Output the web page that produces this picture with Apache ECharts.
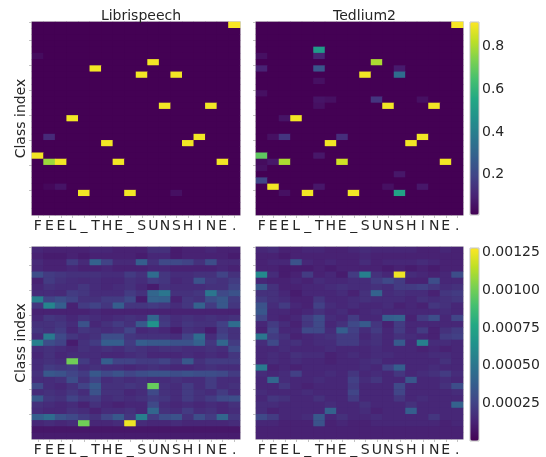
<!DOCTYPE html>
<html>
<head>
<meta charset="utf-8">
<script src="https://cdn.jsdelivr.net/npm/echarts@6/dist/echarts.min.js"></script>
<style>
html, body { margin: 0; padding: 0; background: #fff; }
#main { width: 546px; height: 457px; }
</style>
</head>
<body>
<div id="main"></div>
<script>
// 字符序列 (x 轴)
const chars = ['F','E','E','L','_','T','H','E','_','S','U','N','S','H','I','N','E','.'];
const nClasses = 31;
const titles = ['Librispeech', 'Tedlium2'];

// 上排: 每列峰值所在的行 (从上往下数) 和数值
const topBackground = 0.012;
const libriPeakRows = [21, 22, 22, 15, 27, 7, 19, 22, 27, 8, 6, 13, 8, 19, 18, 13, 22, 0];
const libriPeakVals = [0.90, 0.78, 0.90, 0.90, 0.90, 0.90, 0.90, 0.90, 0.90, 0.90, 0.90, 0.90, 0.90, 0.90, 0.90, 0.90, 0.90, 0.91];
// [列, 行, 值]
const libriExtra = [[0, 5, 0.04], [1, 18, 0.12], [1, 26, 0.03], [2, 26, 0.06], [12, 27, 0.05]];

const tedPeakRows = [21, 26, 22, 15, 27, 4, 19, 22, 27, 8, 6, 13, 27, 19, 18, 13, 22, 0];
const tedPeakVals = [0.69, 0.90, 0.80, 0.90, 0.90, 0.50, 0.90, 0.85, 0.90, 0.90, 0.80, 0.90, 0.53, 0.90, 0.90, 0.90, 0.90, 0.91];
const tedExtra = [
    [0, 5, 0.05], [5, 5, 0.10], [0, 7, 0.10], [5, 7, 0.25], [12, 7, 0.08], [12, 8, 0.33],
    [5, 9, 0.05], [0, 11, 0.05], [5, 12, 0.06], [6, 12, 0.05], [10, 12, 0.15], [14, 12, 0.05],
    [5, 13, 0.05], [2, 15, 0.06], [1, 18, 0.05], [2, 18, 0.15], [7, 18, 0.13], [5, 21, 0.07],
    [1, 22, 0.07], [0, 23, 0.05], [12, 24, 0.07], [0, 25, 0.20], [5, 26, 0.07], [11, 26, 0.05],
    [14, 26, 0.07], [2, 27, 0.05], [0, 22, 0.04]
];

// 下排: 数值单位 1e-5, 每行从上往下
const libriLow = [
    [14,12,12,12,12,14,14,12,12,12,18,18,10,12,12,14,12,12],
    [12,10,10,12,10,12,12,12,12,10,14,14,10,12,12,12,12,10],
    [15,12,12,22,15,40,25,15,15,38,18,28,28,25,18,30,15,15],
    [14,12,12,14,12,12,14,12,12,12,14,14,12,12,12,12,14,12],
    [30,22,20,18,18,18,16,16,22,18,45,20,16,16,18,18,25,18],
    [12,22,18,16,15,16,14,14,18,16,22,20,14,16,32,20,18,22],
    [14,18,16,16,20,16,14,16,18,14,10,18,16,16,16,18,18,25],
    [16,16,15,22,20,16,16,16,22,18,42,50,18,18,20,50,28,32],
    [55,25,30,25,18,18,22,22,28,10,40,38,12,20,18,30,35,22],
    [20,58,38,12,22,25,20,38,20,20,22,20,16,20,40,22,35,20],
    [12,12,12,12,12,14,12,12,12,12,12,12,12,12,12,12,12,12],
    [14,20,18,14,18,16,14,16,18,16,42,20,16,18,16,18,16,18],
    [18,18,20,16,32,14,18,22,18,35,65,22,16,20,18,18,24,45],
    [20,18,22,14,20,18,16,18,26,14,16,14,10,18,16,10,22,18],
    [16,52,28,20,16,18,30,30,20,18,18,18,16,25,45,16,25,18],
    [55,30,25,10,18,22,38,38,22,38,35,35,32,32,40,20,42,22],
    [16,18,16,14,18,16,18,16,20,18,16,18,18,16,16,18,16,28],
    [14,18,14,16,16,16,14,14,16,18,14,14,14,16,14,16,14,20],
    [16,18,16,100,22,16,38,25,25,22,22,25,20,35,18,22,22,22],
    [16,22,20,22,16,18,16,16,14,16,18,16,14,14,16,18,16,16],
    [18,35,32,26,22,35,28,32,26,30,32,32,30,32,30,30,28,22],
    [16,16,18,30,18,25,16,18,16,18,16,16,18,16,16,22,16,16],
    [28,16,14,18,25,35,18,18,20,18,98,18,16,22,16,22,16,18],
    [16,18,16,20,16,32,18,18,14,16,28,18,16,22,18,16,22,16],
    [35,20,18,25,20,22,16,18,16,18,22,20,16,22,18,22,28,30],
    [18,16,14,16,12,18,14,12,14,14,28,16,14,16,14,16,14,18],
    [16,14,14,18,16,12,16,16,18,14,42,18,16,22,16,18,14,16],
    [38,45,32,28,22,18,26,35,20,55,22,30,32,18,30,22,42,20],
    [14,16,14,16,100,14,14,16,125,16,14,14,16,14,14,14,14,16],
    [8,8,8,8,8,8,8,8,8,8,8,8,8,8,8,8,8,8],
    [10,10,10,10,10,10,10,10,10,10,10,10,10,10,10,10,10,10]
];
const tedLow = [
    [14,16,12,12,14,14,12,12,14,16,14,14,14,14,12,12,14,12],
    [12,12,10,12,12,12,12,12,12,14,12,12,12,12,12,12,12,12],
    [12,14,14,32,14,12,14,12,12,16,12,14,14,14,16,14,12,12],
    [12,12,10,10,10,12,10,12,12,12,12,10,12,10,12,10,12,12],
    [60,16,10,12,22,12,14,10,22,55,18,14,125,16,14,12,14,30],
    [14,12,12,14,12,16,14,14,16,16,22,28,22,12,12,30,14,14],
    [35,18,12,12,14,14,16,18,16,16,18,16,22,22,24,20,16,18],
    [18,18,14,10,14,14,14,16,12,18,40,16,18,16,16,12,20,22],
    [22,18,16,12,12,20,14,14,16,18,16,16,16,14,18,16,18,20],
    [32,16,22,14,12,24,16,14,16,14,14,16,12,14,12,20,18,14],
    [34,14,14,12,14,18,14,16,12,14,16,14,14,14,14,14,16,14],
    [26,14,12,14,22,30,16,14,22,14,14,38,40,12,22,30,14,26],
    [14,22,16,12,20,28,14,18,28,36,20,12,22,14,14,14,14,14],
    [12,26,14,14,28,28,16,38,24,16,22,14,22,14,22,12,18,22],
    [50,22,18,12,14,16,18,22,22,14,18,14,18,16,14,12,22,24],
    [16,28,16,18,14,16,16,22,22,16,18,14,36,14,55,16,16,14],
    [14,14,16,14,14,14,16,14,14,14,16,14,14,14,12,14,12,14],
    [14,16,14,18,16,16,12,14,16,14,16,16,14,14,14,16,16,14],
    [14,16,14,16,14,14,12,14,14,16,18,14,14,14,14,14,18,14],
    [52,12,14,12,14,14,14,14,14,16,14,24,38,14,14,16,14,14],
    [16,14,16,24,14,14,16,14,20,14,16,14,20,14,16,18,22,16],
    [14,42,16,14,14,16,14,14,24,16,20,14,14,34,14,14,16,14],
    [14,14,20,14,12,14,14,14,22,14,14,14,28,14,14,14,18,30],
    [16,14,14,14,16,14,14,14,26,14,14,14,26,14,14,14,14,16],
    [14,20,18,14,14,18,14,14,22,14,14,14,20,14,16,14,14,14],
    [16,16,14,14,14,14,16,14,14,18,14,14,14,18,14,14,14,40],
    [16,12,14,14,14,14,40,14,14,16,12,14,14,38,14,14,14,14],
    [28,22,14,14,16,35,14,18,14,14,16,14,14,14,14,20,14,14],
    [14,14,12,12,12,32,12,14,12,12,14,14,14,14,14,14,12,14],
    [12,12,12,12,12,12,12,12,12,12,12,12,12,12,12,12,12,12],
    [12,12,12,12,12,12,12,12,12,12,12,12,12,12,12,12,12,12]
];

// 色条刻度
const topTicks = [0.2, 0.4, 0.6, 0.8];
const lowTicks = [0.00025, 0.0005, 0.00075, 0.001, 0.00125];

const viridis = ['#440154','#482475','#414487','#355f8d','#2a788e','#21918c','#22a884','#44bf70','#7ad151','#bddf26','#fde725'];
const font = 'DejaVu Sans';
const txt = '#262626';
const spine = '#c4c4c4';

// 从峰值构建矩阵
function buildTop(peakRows, peakVals, extra) {
    const m = [];
    for (let r = 0; r < nClasses; r++) m.push(new Array(chars.length).fill(topBackground));
    peakRows.forEach((r, c) => { m[r][c] = peakVals[c]; });
    extra.forEach(e => { m[e[1]][e[0]] = e[2]; });
    return m;
}

function toSeriesData(m, scale) {
    const out = [];
    m.forEach((row, r) => {
        row.forEach((v, c) => {
            out.push([c, nClasses - 1 - r, v * scale]);
        });
    });
    return out;
}

const mats = [
    toSeriesData(buildTop(libriPeakRows, libriPeakVals, libriExtra), 1),
    toSeriesData(buildTop(tedPeakRows, tedPeakVals, tedExtra), 1),
    toSeriesData(libriLow, 1e-5),
    toSeriesData(tedLow, 1e-5)
];

const panels = [
    {left: 32, top: 22, width: 208, height: 193},
    {left: 256, top: 22, width: 207, height: 193},
    {left: 32, top: 247, width: 208, height: 194},
    {left: 256, top: 247, width: 207, height: 194}
];
const bars = [
    {left: 470, top: 22, width: 9, height: 193},
    {left: 470, top: 248, width: 9, height: 193}
];

const classNames = [];
for (let i = 0; i < nClasses; i++) classNames.push(String(i));

const grid = [], xAxis = [], yAxis = [], series = [];
panels.forEach((p, i) => {
    // 深色底, 避免格子之间露白缝
    grid.push(Object.assign({show: true, backgroundColor: i < 2 ? '#440154' : '#45105f', borderColor: spine, borderWidth: 1.5}, p));
    xAxis.push({
        type: 'category', gridIndex: i, data: chars,
        axisLine: {show: false},
        axisTick: {show: true, alignWithLabel: true, interval: 0, length: 3, lineStyle: {color: spine}},
        axisLabel: {interval: 0, margin: 4, color: txt, fontFamily: font, fontSize: 14},
        splitLine: {show: false}
    });
    yAxis.push({
        type: 'category', gridIndex: i, data: classNames,
        name: i % 2 === 0 ? 'Class index' : '',
        nameLocation: 'middle', nameGap: 4,
        nameTextStyle: {fontFamily: font, fontSize: 14, color: txt},
        axisLine: {show: false},
        axisTick: {show: true, length: 3, lineStyle: {color: spine},
            interval: function (idx) { return idx > 0 && idx % 4 === 0; }},
        axisLabel: {show: false},
        splitLine: {show: false}
    });
    series.push({
        type: 'heatmap', xAxisIndex: i, yAxisIndex: i,
        data: mats[i], emphasis: {disabled: true}, progressive: 0
    });
});

// 色条的刻度轴
bars.forEach((b, k) => {
    const gi = grid.length;
    grid.push(Object.assign({show: true, z: 10, backgroundColor: 'rgba(0,0,0,0)', borderColor: spine, borderWidth: 1}, b));
    xAxis.push({type: 'value', gridIndex: gi, show: false, min: 0, max: 1});
    yAxis.push({
        type: 'value', gridIndex: gi, position: 'right',
        min: k === 0 ? 0.012 : 0, max: k === 0 ? 0.915 : 0.00128,
        axisLine: {show: false},
        splitLine: {show: false},
        axisTick: {show: true, length: 3.5, lineStyle: {color: txt},
            customValues: k === 0 ? topTicks : lowTicks},
        axisLabel: {margin: 3, color: txt, fontFamily: font, fontSize: 14,
            customValues: k === 0 ? topTicks : lowTicks,
            formatter: v => k === 0 ? v.toFixed(1) : v.toFixed(5)}
    });
});

const option = {
    animation: false,
    title: titles.map((t, i) => ({
        text: t, left: panels[i].left + panels[i].width / 2, top: 4, textAlign: 'center',
        textStyle: {fontFamily: font, fontSize: 14, fontWeight: 'normal', color: txt}
    })),
    grid: grid,
    xAxis: xAxis,
    yAxis: yAxis,
    visualMap: [
        {type: 'continuous', seriesIndex: [0, 1], min: 0.012, max: 0.915, calculable: false,
            left: bars[0].left, top: bars[0].top, itemWidth: bars[0].width, itemHeight: bars[0].height,
            padding: 0, text: null, showLabel: false, inRange: {color: viridis}},
        {type: 'continuous', seriesIndex: [2, 3], min: 0, max: 0.00128, calculable: false,
            left: bars[1].left, top: bars[1].top, itemWidth: bars[1].width, itemHeight: bars[1].height,
            padding: 0, text: null, showLabel: false, inRange: {color: viridis}}
    ],
    series: series
};

const myChart = echarts.init(document.getElementById('main'));
myChart.setOption(option);

window.addEventListener('resize', function () {
    myChart.resize();
});
</script>
</body>
</html>
